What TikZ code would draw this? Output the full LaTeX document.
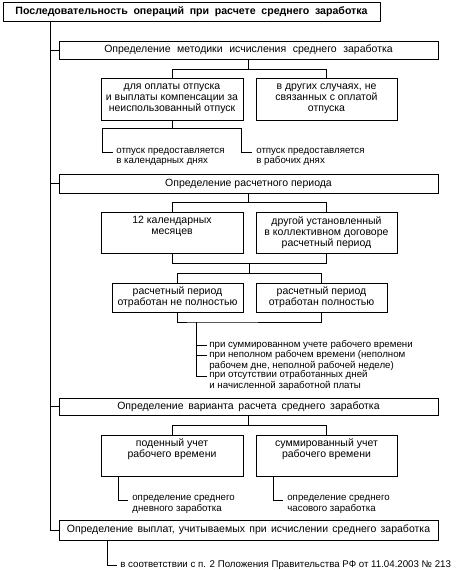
\documentclass[tikz,border=0pt]{standalone}
\usepackage{fontspec}
\setmainfont{Liberation Sans}
\newcommand\wsp[1]{\spaceskip=#1\relax}
\begin{document}
\begin{tikzpicture}[x=1pt,y=-1pt,line width=0.7pt,
  box/.style={draw,inner sep=0.5pt,align=center,font=\fontsize{10.5}{11.2}\selectfont},
  lbl/.style={inner sep=0pt,align=left,anchor=west,font=\fontsize{9.7}{10.3}\selectfont}]
\useasboundingbox (0,0) rectangle (461,570);
% boxes
\node[box,minimum width=377pt,minimum height=19pt,font=\bfseries\fontsize{10.6}{11}\selectfont] (top) at (191.5,11.5) {\wsp{5.6pt}Последовательность операций при расчете среднего заработка};
\node[box,minimum width=379pt,minimum height=18pt] (m1) at (248.5,50) {\wsp{6.6pt}Определение методики исчисления среднего заработка};
\node[box,minimum width=142pt,minimum height=42pt] (b1a) at (172,99) {для оплаты отпуска\\и выплаты компенсации за\\неиспользованный отпуск};
\node[box,minimum width=141pt,minimum height=42pt] (b1b) at (326.5,99) {в других случаях, не\\связанных с оплатой\\отпуска};
\node[lbl] (t1a) at (116,157) {отпуск предоставляется\\в календарных днях};
\node[lbl] (t1b) at (256,157) {отпуск предоставляется\\в рабочих днях};
\node[box,minimum width=379pt,minimum height=19pt] (m2) at (248.5,183.5) {Определение расчетного периода};
\node[box,minimum width=142pt,minimum height=41pt] (b2a) at (172,232.5) {12 календарных\\месяцев\\\strut};
\node[box,minimum width=141pt,minimum height=41pt] (b2b) at (326.5,232.5) {другой установленный\\в коллективном договоре\\расчетный период};
\node[box,minimum width=131pt,minimum height=29pt] (b3a) at (177.5,297.5) {расчетный период\\отработан не полностью};
\node[box,minimum width=131pt,minimum height=29pt] (b3b) at (321.5,297.5) {расчетный период\\отработан полностью};
\node[lbl] (i1) at (209,345) {при суммированном учете рабочего времени};
\node[lbl] (i2) at (209,360.5) {при неполном рабочем времени (неполном\\рабочем дне, неполной рабочей неделе)};
\node[lbl] (i3) at (209,380.5) {при отсутствии отработанных дней\\и начисленной заработной платы};
\node[box,minimum width=379pt,minimum height=17pt] (m3) at (248.5,406.5) {\wsp{4.8pt}Определение варианта расчета среднего заработка};
\node[box,minimum width=142pt,minimum height=41pt] (b4a) at (172,455.5) {поденный учет\\рабочего времени\\\strut};
\node[box,minimum width=141pt,minimum height=41pt] (b4b) at (326.5,455.5) {суммированный учет\\рабочего времени\\\strut};
\node[lbl] (t4a) at (132,504.5) {определение среднего\\дневного заработка};
\node[lbl] (t4b) at (287,504.5) {определение среднего\\часового заработка};
\node[box,minimum width=379pt,minimum height=20pt] (m4) at (248.5,530) {\wsp{4.3pt}Определение выплат, учитываемых при исчислении среднего заработка};
\node[lbl] (t5) at (120,565) {в соответствии с п. 2 Положения Правительства РФ от 11.04.2003 № 213};
% coordinates
\coordinate (spine) at (50,0);
\coordinate (k1a) at (113,152);
\coordinate (k1b) at (252,152);
\coordinate (j3) at (196,322);
\coordinate (k4a) at (128,500);
\coordinate (k4b) at (283,500);
\coordinate (k5) at (117,565);
% spine
\draw (top.south -| spine) -- (spine |- m4.west) -- (m4.west);
\draw (spine |- m1.west) -- (m1.west);
\draw (spine |- m2.west) -- (m2.west);
\draw (spine |- m3.west) -- (m3.west);
% section 1
\draw (m1.south) -- ++(0,10) -| (b1a.north);
\draw (m1.south) ++(0,10) -| (b1b.north);
\draw (b1a.south) -- ++(0,8) -| (102,152) -- (k1a);
\draw (b1a.south) ++(0,8) -| (241,152) -- (k1b);
% section 2
\draw (m2.south) -- ++(0,9) -| (b2a.north);
\draw (m2.south) ++(0,9) -| (b2b.north);
\draw (b2a.south) -- ++(0,10) -| (b2b.south);
\draw (249,263) -- (249,273);
\draw (249,273) -| (b3a.north);
\draw (249,273) -| (b3b.north);
\draw (b3a.south) |- (j3) -| (b3b.south);
\draw (j3) |- (207,376);
\draw (196,345) -- (207,345);
\draw (196,355) -- (207,355);
% section 3
\draw (m3.south) -- ++(0,10) -| (b4a.north);
\draw (m3.south) ++(0,10) -| (b4b.north);
\draw (b4a.south -| 118,0) |- (k4a);
\draw (b4b.south -| 273,0) |- (k4b);
% section 4
\draw (m4.south -| 107,0) |- (k5);
\end{tikzpicture}
\end{document}
